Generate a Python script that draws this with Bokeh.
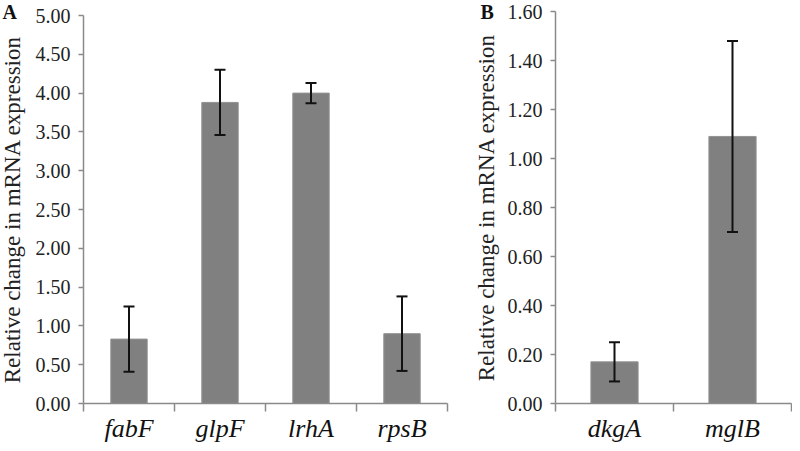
from bokeh.plotting import figure
from bokeh.models import (Range1d, FixedTicker, NumeralTickFormatter, Whisker,
                          TeeHead, ColumnDataSource, Label)
from bokeh.layouts import row
from bokeh.embed import file_html
from bokeh.resources import INLINE

# ---- data ----
genes_a = ["fabF", "glpF", "lrhA", "rpsB"]
mean_a = [0.83, 3.88, 4.00, 0.90]
err_a = [0.42, 0.42, 0.13, 0.48]
ticks_a = [0.0, 0.5, 1.0, 1.5, 2.0, 2.5, 3.0, 3.5, 4.0, 4.5, 5.0]

genes_b = ["dkgA", "mglB"]
mean_b = [0.17, 1.09]
err_b = [0.08, 0.39]
ticks_b = [0.0, 0.2, 0.4, 0.6, 0.8, 1.0, 1.2, 1.4, 1.6]

ylabel = "Relative change in mRNA expression"

SERIF = "serif"
AXIS_GRAY = "#8a8a8a"
BAR_FILL = "#808080"
H = 443


def make_panel(genes, means, errs, yticks, letter, width, ax_left, ax_right,
               ax_top, ax_bottom, letter_x, label_standoff):
    """ax_* are pixel positions (within this figure) of the axes box."""
    n = len(genes)
    xs = [i + 0.5 for i in range(n)]
    ymax = yticks[-1]
    ppx = (ax_right - ax_left) / n
    ppy = (ax_bottom - ax_top) / ymax
    x_range = Range1d(-ax_left / ppx, n + (width - ax_right) / ppx)
    y_range = Range1d(-(H - ax_bottom) / ppy, ymax + ax_top / ppy)

    src = ColumnDataSource(dict(
        x=xs, top=means,
        upper=[m + e for m, e in zip(means, errs)],
        lower=[m - e for m, e in zip(means, errs)],
    ))
    p = figure(width=width, height=H, output_backend="svg", toolbar_location=None,
               x_range=x_range, y_range=y_range, min_border=0)
    p.title.visible = False
    p.outline_line_color = None
    p.xgrid.visible = False
    p.ygrid.visible = False
    p.background_fill_color = "white"
    p.border_fill_color = "white"

    p.vbar(x="x", top="top", bottom=0, width=0.4, source=src,
           fill_color=BAR_FILL, line_color="#939393", line_width=1)
    w = Whisker(source=src, base="x", upper="upper", lower="lower", dimension="height",
                line_color="#111111", line_width=2, level="overlay",
                upper_head=TeeHead(size=11, line_color="#111111", line_width=2),
                lower_head=TeeHead(size=11, line_color="#111111", line_width=2))
    p.add_layout(w)

    # y axis
    ya = p.yaxis[0]
    ya.fixed_location = 0
    ya.bounds = (0, ymax)
    ya.ticker = FixedTicker(ticks=yticks)
    ya.formatter = NumeralTickFormatter(format="0.00")
    ya.axis_line_color = AXIS_GRAY
    ya.axis_line_width = 1.5
    ya.major_tick_line_color = AXIS_GRAY
    ya.major_tick_line_width = 1.5
    ya.major_tick_out = 5
    ya.major_tick_in = 0
    ya.minor_tick_line_color = None
    ya.major_label_text_font = SERIF
    ya.major_label_text_font_size = "20px"
    ya.major_label_text_color = "#222222"
    ya.major_label_standoff = 8
    ya.axis_label = ylabel
    ya.axis_label_text_font = SERIF
    ya.axis_label_text_font_style = "normal"
    ya.axis_label_text_font_size = "23px"
    ya.axis_label_text_color = "#222222"
    ya.axis_label_standoff = label_standoff

    # x axis: labels at centres, ticks at category boundaries
    xa = p.xaxis[0]
    xa.fixed_location = 0
    xa.bounds = (0, n)
    xa.ticker = FixedTicker(ticks=xs, minor_ticks=[float(i) for i in range(n + 1)])
    xa.major_label_overrides = {x: g for x, g in zip(xs, genes)}
    xa.axis_line_color = AXIS_GRAY
    xa.axis_line_width = 1.5
    xa.major_tick_line_color = None
    xa.major_tick_out = 0
    xa.major_tick_in = 0
    xa.minor_tick_line_color = AXIS_GRAY
    xa.minor_tick_line_width = 1.5
    xa.minor_tick_out = 8
    xa.minor_tick_in = 0
    xa.major_label_text_font = SERIF
    xa.major_label_text_font_style = "italic"
    xa.major_label_text_font_size = "26px"
    xa.major_label_text_color = "#111111"
    xa.major_label_standoff = 2

    lab = Label(x=x_range.start + letter_x / ppx, y=y_range.end, text=letter,
                text_font=SERIF, text_font_style="bold", text_font_size="20px",
                text_color="#111111", text_baseline="top", text_align="left")
    p.add_layout(lab)
    return p


pa = make_panel(genes_a, mean_a, err_a, ticks_a, "A", 450,
                ax_left=83, ax_right=447, ax_top=15, ax_bottom=403,
                letter_x=2, label_standoff=8)
pb = make_panel(genes_b, mean_b, err_b, ticks_b, "B", 342,
                ax_left=105, ax_right=341, ax_top=11, ax_bottom=403,
                letter_x=30, label_standoff=6)

layout = row(pa, pb)
open("out.html", "w").write(file_html(layout, INLINE))
